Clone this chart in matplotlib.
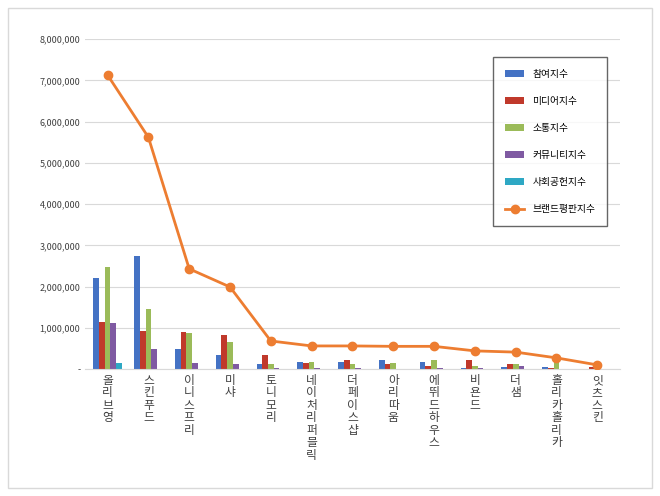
import matplotlib.pyplot as plt
import matplotlib.ticker as ticker
from matplotlib import font_manager
import numpy as np

# pick whichever CJK font is actually registered
cjk = [f.name for f in font_manager.fontManager.ttflist if 'CJK' in f.name]
kr = [n for n in cjk if 'KR' in n] or cjk
plt.rcParams['font.family'] = [kr[0] if kr else 'DejaVu Sans', 'DejaVu Sans']

brands = ['올리브영', '스킨푸드', '이니스프리', '미샤', '토니모리', '네이처리퍼블릭', '더페이스샵',
          '아리따움', '에뛰드하우스', '비욘드', '더샘', '홀리카홀리카', '잇츠스킨']
participation = [2200000, 2730000, 480000, 330000, 130000, 170000, 160000, 220000, 170000, 20000, 40000, 40000, 10000]
media = [1150000, 920000, 900000, 820000, 350000, 140000, 210000, 130000, 80000, 230000, 110000, 20000, 40000]
communication = [2480000, 1460000, 880000, 660000, 130000, 160000, 110000, 150000, 230000, 70000, 110000, 180000, 0]
community = [1120000, 490000, 150000, 130000, 20000, 20000, 20000, 0, 20000, 30000, 70000, 10000, 0]
social = [140000, 0, 0, 0, 0, 0, 0, 0, 0, 0, 0, 0, 0]
brand_index = [7130000, 5620000, 2430000, 1990000, 680000, 560000, 560000, 550000, 550000, 440000, 410000, 270000, 100000]

series = [('참여지수', participation, '#4472c4'),
          ('미디어지수', media, '#c0392b'),
          ('소통지수', communication, '#9bbb59'),
          ('커뮤니티지수', community, '#7f5aa2'),
          ('사회공헌지수', social, '#2ea8c4')]

fig = plt.figure(figsize=(6.6, 4.96), dpi=100)
fig.patches.append(plt.Rectangle((0.012, 0.016), 0.976, 0.968, transform=fig.transFigure,
                                 fill=False, edgecolor='#d9d9d9', linewidth=1))
ax = fig.add_axes([0.129, 0.256, 0.81, 0.665])

x = np.arange(len(brands))
w = 0.14
for i, (name, vals, color) in enumerate(series):
    ax.bar(x + (i - 2) * w, vals, w, color=color, label=name, zorder=2)
ax.plot(x, brand_index, color='#ed7d31', linewidth=2, marker='o', markersize=6, label='브랜드평판지수', zorder=3)

ax.set_ylim(0, 8000000)
ax.set_xlim(-0.55, len(brands) - 0.45)
ax.yaxis.set_major_locator(ticker.MultipleLocator(1000000))
ax.yaxis.set_major_formatter(ticker.FuncFormatter(lambda v, p: '-' if v == 0 else f'{v:,.0f}'))
ax.grid(axis='y', color='#d9d9d9', linewidth=0.8, zorder=0)
for s in ['top', 'right', 'left']:
    ax.spines[s].set_visible(False)
ax.spines['bottom'].set_color('#d9d9d9')
ax.tick_params(axis='both', length=0, labelsize=6.5, colors='#404040')
ax.set_xticks(x)
ax.set_xticklabels(['\n'.join(b) for b in brands], fontsize=8.5, linespacing=0.95, va='top')

handles, labels = ax.get_legend_handles_labels()
handles = handles[1:] + handles[:1]
labels = labels[1:] + labels[:1]
leg = ax.legend(handles, labels, loc='upper right', bbox_to_anchor=(0.985, 0.96), fontsize=7, frameon=True,
                labelspacing=1.75, handlelength=2.0, borderpad=1.2, fancybox=False)
leg.get_frame().set_edgecolor('#404040')

fig.savefig('out.png', dpi=100)
